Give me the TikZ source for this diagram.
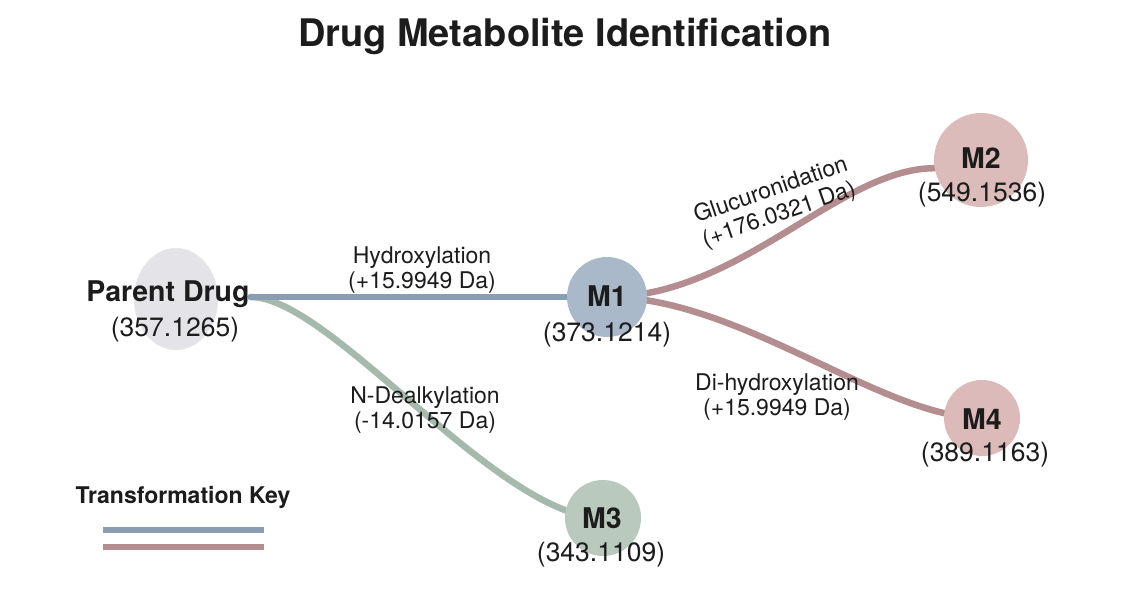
\documentclass[tikz,border=0pt]{standalone}
\usepackage{fontspec}
\setmainfont{TeX Gyre Heros}
\usetikzlibrary{shapes.geometric,backgrounds}
\definecolor{txt}{HTML}{1C1C1C}
\definecolor{pfill}{HTML}{E3E3E8}
\definecolor{bline}{HTML}{8A9DB3}
\definecolor{gline}{HTML}{A5B9AD}
\definecolor{mline}{HTML}{B38D90}
\definecolor{mone}{HTML}{AAB9CA}
\definecolor{mthree}{HTML}{B9C9BD}
\definecolor{mtwo}{HTML}{DCBCBB}
\definecolor{mfour}{HTML}{DBBAB9}
\tikzset{
  circ/.style={circle,draw=none,inner sep=0pt,minimum size=#1},
  bigname/.style={font=\fontsize{28.5}{32}\selectfont\bfseries,text=txt,inner sep=1pt},
  mass/.style={font=\fontsize{26.5}{30}\selectfont,text=txt,inner sep=1pt},
  rxn/.style={font=\fontsize{23}{25.5}\selectfont,text=txt,align=center,inner sep=1pt},
  link/.style={line width=6.5pt,line cap=round},
}
\begin{document}
\begin{tikzpicture}[x=1pt,y=-1pt]
\useasboundingbox (0,0) rectangle (1126,614);
% title
\node[font=\fontsize{38}{42}\selectfont\bfseries,text=txt] (title) at (565,36) {Drug Metabolite Identification};
% nodes
\node[ellipse,fill=pfill,minimum width=84pt,minimum height=102pt,inner sep=0pt] (parent) at (176,299) {};
\node[circ=80pt,fill=mone] (m1) at (607,297) {};
\node[circ=94pt,fill=mtwo] (m2) at (981,160) {};
\node[circ=76pt,fill=mthree] (m3) at (603,518) {};
\node[circ=76pt,fill=mfour] (m4) at (982,418) {};
% names and masses
\node[bigname] (ptext) at (168,294) {Parent Drug};
\node[mass] (pmass) at (175,330) {(357.1265)};
\node[bigname] (m1text) at (607,296) {M1};
\node[mass] (m1mass) at (607,335) {(373.1214)};
\node[bigname] (m2text) at (981,158) {M2};
\node[mass] (m2mass) at (982,195) {(549.1536)};
\node[bigname] (m3text) at (602,518) {M3};
\node[mass] (m3mass) at (601,555) {(343.1109)};
\node[bigname] (m4text) at (982,419) {M4};
\node[mass] (m4mass) at (985,455) {(389.1163)};
\coordinate (pstart) at (ptext.east |- m1.center);
% connectors
\begin{scope}[on background layer]
\fill[white] (0,0) rectangle (1126,614);
\draw[link,gline] (pstart) .. controls +(80,0) and +(-105,0) .. (m3.center);
\draw[link,bline] (pstart) -- (m1.center);
\draw[link,mline] (m1.center) .. controls +(133,0) and +(-95,0) .. (m2.190);
\draw[link,mline] (m1.center) .. controls +(133,0) and +(-100,0) .. (m4.center);
\end{scope}
% reaction labels
\node[rxn] (hyd) at (422,270) {Hydroxylation\\(+15.9949 Da)};
\node[rxn] (ndeal) at (425,410) {N-Dealkylation\\(-14.0157 Da)};
\node[rxn,rotate=19] (gluc) at (775,203) {Glucuronidation\\(+176.0321 Da)};
\node[rxn] (dihyd) at (777,397) {Di-hydroxylation\\(+15.9949 Da)};
% legend
\node[font=\fontsize{23}{26}\selectfont\bfseries,text=txt] (key) at (183,497) {Transformation Key};
\coordinate (kb1) at (103,530);
\coordinate (kb2) at (264,530);
\coordinate (km1) at (103,547);
\coordinate (km2) at (264,547);
\draw[line width=6.5pt,bline] (kb1) -- (kb2);
\draw[line width=6.5pt,mline] (km1) -- (km2);
\end{tikzpicture}
\end{document}
